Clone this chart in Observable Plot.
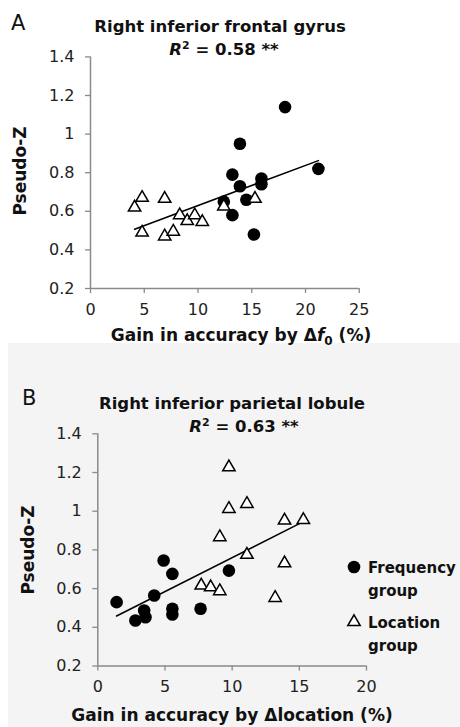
<!DOCTYPE html>
<html><head><meta charset="utf-8">
<script src="https://cdn.jsdelivr.net/npm/d3@7"></script>
<script src="https://cdn.jsdelivr.net/npm/@observablehq/plot@0.6"></script>
<style>
body{margin:0;background:#fff;}
#root{position:relative;width:460px;height:727px;overflow:hidden;}
#bg{position:absolute;left:8px;top:343px;width:452px;height:384px;background:#f4f4f4;}
.pl{position:absolute;left:0;}
#ov{position:absolute;left:0;top:0;pointer-events:none;}
#ov text{font-family:"DejaVu Sans",sans-serif;fill:#111;}
</style></head><body><div id="root"><div id="bg"></div></div>
<script>
// Panel A: Right inferior frontal gyrus
const aFreqX = [18.1, 13.9, 21.2, 13.2, 15.9, 15.9, 13.9, 12.4, 14.5, 13.2, 15.2];
const aFreqY = [1.14, 0.95, 0.82, 0.79, 0.77, 0.74, 0.73, 0.65, 0.66, 0.58, 0.48];
const aLocX = [4.1, 4.8, 6.9, 4.8, 6.9, 7.7, 8.3, 9.0, 9.7, 10.4, 12.4, 15.3];
const aLocY = [0.62, 0.67, 0.665, 0.49, 0.47, 0.495, 0.58, 0.55, 0.58, 0.545, 0.625, 0.665];
// Panel B: Right inferior parietal lobule
const bFreqX = [1.4, 2.8, 3.45, 3.55, 4.2, 4.9, 5.55, 5.55, 5.55, 7.65, 9.76];
const bFreqY = [0.53, 0.435, 0.487, 0.452, 0.564, 0.745, 0.676, 0.496, 0.466, 0.496, 0.693];
const bLocX = [9.76, 9.76, 11.1, 13.9, 15.3, 9.08, 11.1, 13.9, 7.7, 8.4, 9.08, 13.2];
const bLocY = [1.227, 1.012, 1.038, 0.952, 0.955, 0.866, 0.775, 0.731, 0.616, 0.607, 0.587, 0.552];
// Ticks
const yTicks = [0.2, 0.4, 0.6, 0.8, 1, 1.2, 1.4];
const aXTicks = [0, 5, 10, 15, 20, 25];
const bXTicks = [0, 5, 10, 15, 20];
const titles = ["Right inferior frontal gyrus", "Right inferior parietal lobule"];
const r2Values = ["0.58", "0.63"];
const legendLabels = [["Frequency", "group"], ["Location", "group"]];

const zip = (xs, ys) => xs.map((x, i) => ({x, y: ys[i]}));
const fmt = d3.format("~g");
const axisGray = "#8a8a8a";

function panel(freq, loc, xDomain, xTicks, m) {
  const all = freq.concat(loc);
  return Plot.plot({
    width: 460, height: m.h,
    marginLeft: m.l, marginRight: m.r, marginTop: m.t, marginBottom: m.b,
    x: {domain: xDomain},
    y: {domain: [0.2, 1.4]},
    style: {fontFamily: "DejaVu Sans", fontSize: "16px", background: "transparent", overflow: "visible"},
    marks: [
      Plot.ruleX([xDomain[0]], {stroke: axisGray, strokeWidth: 1.5}),
      Plot.ruleY([0.2], {stroke: axisGray, strokeWidth: 1.5}),
      Plot.axisY(yTicks, {tickSize: 5, tickPadding: 11, stroke: axisGray, strokeWidth: 1.3, fill: "#222", tickFormat: fmt, label: null}),
      Plot.axisX(xTicks, {tickSize: 5, tickPadding: 10, stroke: axisGray, strokeWidth: 1.3, fill: "#222", tickFormat: fmt, label: null}),
      Plot.linearRegressionY(all, {x: "x", y: "y", stroke: "black", strokeWidth: 1.5, ci: 0}),
      Plot.dot(freq, {x: "x", y: "y", r: 6.3, fill: "black"}),
      Plot.dot(loc, {x: "x", y: "y", symbol: "triangle", r: 4.6, fill: "white", stroke: "black", strokeWidth: 1.5})
    ]
  });
}

const root = document.getElementById("root");
const pA = panel(zip(aFreqX, aFreqY), zip(aLocX, aLocY), [0, 25], aXTicks, {h: 340, l: 90, r: 101.25, t: 56.4, b: 52});
pA.classList.add("pl"); pA.style.top = "0px";
root.appendChild(pA);
const pB = panel(zip(bFreqX, bFreqY), zip(bLocX, bLocY), [0, 20], bXTicks, {h: 384, l: 97.3, r: 94, t: 90.3, b: 61.5});
pB.classList.add("pl"); pB.style.top = "343px";
root.appendChild(pB);

// Overlay text (titles, axis labels, legend)
const ns = "http://www.w3.org/2000/svg";
const ov = document.createElementNS(ns, "svg");
ov.setAttribute("id", "ov"); ov.setAttribute("width", 460); ov.setAttribute("height", 727);
root.appendChild(ov);
function txt(x, y, s, o = {}) {
  const t = document.createElementNS(ns, "text");
  t.setAttribute("x", x); t.setAttribute("y", y);
  t.setAttribute("font-size", o.size || 16.5);
  if (o.bold) t.setAttribute("font-weight", "bold");
  t.setAttribute("text-anchor", o.anchor || "middle");
  if (o.transform) t.setAttribute("transform", o.transform);
  if (typeof s === "string") t.textContent = s;
  else s.forEach(p => {
    const sp = document.createElementNS(ns, "tspan");
    sp.textContent = p.t;
    if (p.italic) sp.setAttribute("font-style", "italic");
    if (p.size) sp.setAttribute("font-size", p.size);
    if (p.dy) sp.setAttribute("dy", p.dy);
    t.appendChild(sp);
  });
  ov.appendChild(t);
  return t;
}
// Panel A texts
txt(11, 30, "A", {size: 21, anchor: "start"});
txt(220, 31.5, titles[0], {bold: true});
txt(224, 55, [{t: "R", italic: true}, {t: "2", size: 11, dy: -6}, {t: " = " + r2Values[0] + " **", dy: 6}], {bold: true});
txt(0, 0, "Pseudo-Z", {bold: true, size: 17, transform: "translate(26,171) rotate(-90)"});
txt(241, 341, [{t: "Gain in accuracy by Δ"}, {t: "f", italic: true}, {t: "0", size: 12, dy: 4}, {t: " (%)", dy: -4}], {bold: true, size: 17});
// Panel B texts
txt(22, 405, "B", {size: 21, anchor: "start"});
txt(232, 409, titles[1], {bold: true});
txt(244, 432, [{t: "R", italic: true}, {t: "2", size: 11, dy: -6}, {t: " = " + r2Values[1] + " **", dy: 6}], {bold: true});
txt(0, 0, "Pseudo-Z", {bold: true, size: 17, transform: "translate(34,550) rotate(-90)"});
txt(232, 720.5, "Gain in accuracy by Δlocation (%)", {bold: true, size: 17});
// Legend
const lx = 354, ltx = 368;
const c = document.createElementNS(ns, "circle");
c.setAttribute("cx", lx); c.setAttribute("cy", 567); c.setAttribute("r", 6.3); c.setAttribute("fill", "black");
ov.appendChild(c);
const tri = document.createElementNS(ns, "path");
tri.setAttribute("d", d3.symbol(d3.symbolTriangle, Math.PI * 4.6 * 4.6)());
tri.setAttribute("transform", `translate(${lx},622)`);
tri.setAttribute("fill", "white"); tri.setAttribute("stroke", "black"); tri.setAttribute("stroke-width", 1.5);
ov.appendChild(tri);
txt(ltx, 572.5, legendLabels[0][0], {bold: true, size: 15, anchor: "start"});
txt(ltx, 595.5, legendLabels[0][1], {bold: true, size: 15, anchor: "start"});
txt(ltx, 627.5, legendLabels[1][0], {bold: true, size: 15, anchor: "start"});
txt(ltx, 650.5, legendLabels[1][1], {bold: true, size: 15, anchor: "start"});
</script>
</body></html>
